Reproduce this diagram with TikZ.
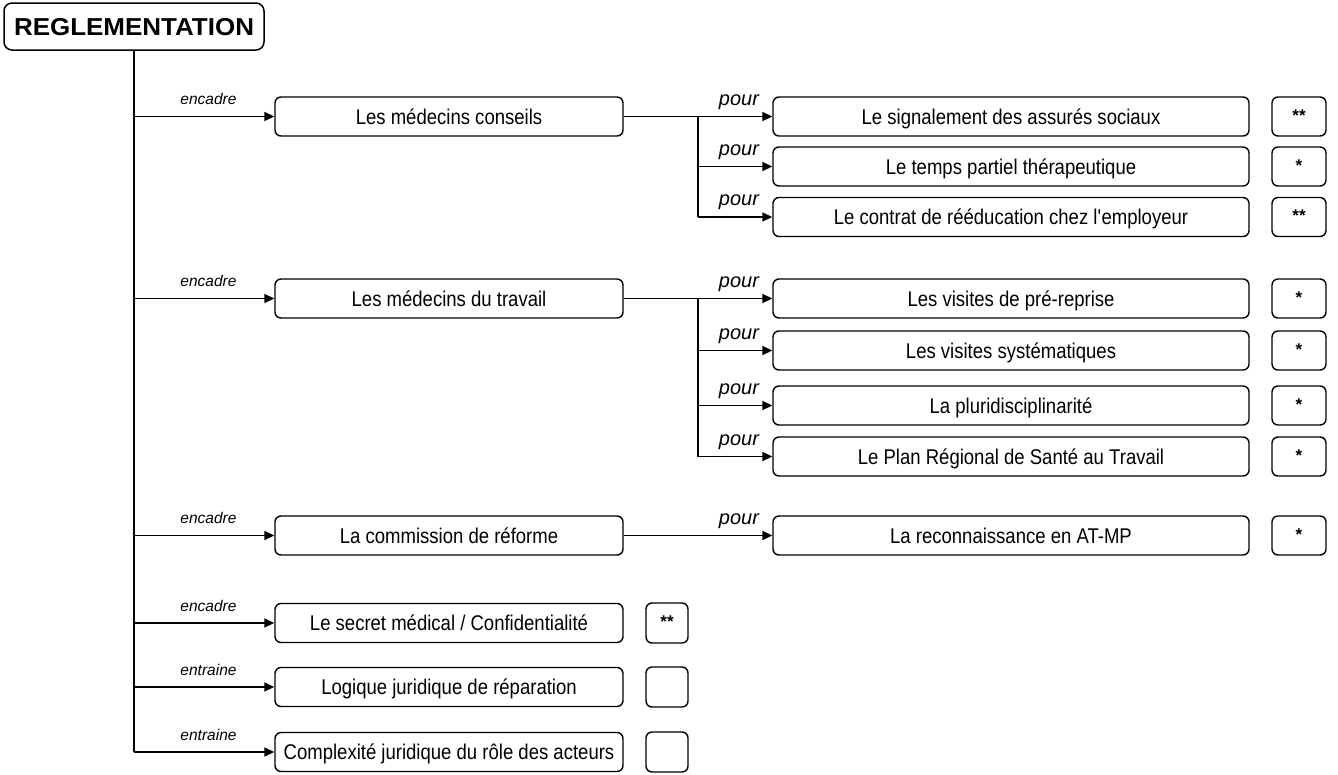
\documentclass[tikz,border=0pt]{standalone}
\usepackage{fontspec}
\setmainfont{Liberation Sans}[FakeStretch=0.87]
\newfontfamily\titlefont{Liberation Sans}[FakeStretch=1.06]
\newfontfamily\lblfont{Liberation Sans}
\usetikzlibrary{arrows.meta}

\tikzset{
  titlebox/.style={draw, rounded corners=8pt, line width=1.5pt, minimum width=260pt,
    minimum height=47pt, inner sep=0pt, text height=17.5pt, text depth=0pt,
    font=\titlefont\bfseries\fontsize{24.5}{28}\selectfont},
  box/.style={draw, rounded corners=6pt, line width=1.4pt, minimum height=39pt,
    inner sep=0pt, text height=15.5pt, text depth=0pt, font=\fontsize{21.3}{24}\selectfont},
  lone/.style={box, minimum width=348pt},
  ltwo/.style={box, minimum width=476pt},
  starbox/.style={box, minimum width=54pt, text height=9pt,
    font=\lblfont\bfseries\fontsize{17}{18}\selectfont},
  smallstar/.style={starbox, minimum width=42pt, minimum height=40pt},
  rel/.style={anchor=base, inner sep=0pt, font=\lblfont\itshape\fontsize{15.5}{18}\selectfont},
  pourlbl/.style={anchor=base, inner sep=0pt, font=\lblfont\itshape\fontsize{20}{22}\selectfont},
  wire/.style={line width=1.6pt},
  link/.style={wire, -{Triangle[length=10pt,width=9pt]}}
}

\begin{document}
\begin{tikzpicture}[x=1pt,y=-1pt]
\useasboundingbox (0,0) rectangle (1338,774);

% root
\node[titlebox] (title) at (134,26.5) {REGLEMENTATION};

% first level
\node[lone] (mc) at (449,116.5) {Les médecins conseils};
\node[lone] (mt) at (449,298.5) {Les médecins du travail};
\node[lone] (cr) at (449,535.5) {La commission de réforme};
\node[lone] (sm) at (449,623)   {Le secret médical / Confidentialité};
\node[lone] (lj) at (449,687)   {Logique juridique de réparation};
\node[lone] (cj) at (449,752)   {Complexité juridique du rôle des acteurs};

% second level
\node[ltwo] (s1) at (1011,116.5) {Le signalement des assurés sociaux};
\node[ltwo] (s2) at (1011,166.5) {Le temps partiel thérapeutique};
\node[ltwo] (s3) at (1011,217)   {Le contrat de rééducation chez l\textquotesingle employeur};
\node[ltwo] (t1) at (1011,298.5) {Les visites de pré-reprise};
\node[ltwo] (t2) at (1011,350.5) {Les visites systématiques};
\node[ltwo] (t3) at (1011,405.5) {La pluridisciplinarité};
\node[ltwo] (t4) at (1011,456.5) {Le Plan Régional de Santé au Travail};
\node[ltwo] (r1) at (1011,535.5) {La reconnaissance en AT-MP};

% rating boxes
\node[starbox] (ks1) at (1299,116.5) {**};
\node[starbox] (ks2) at (1299,166.5) {*};
\node[starbox] (ks3) at (1299,217)   {**};
\node[starbox] (kt1) at (1299,298.5) {*};
\node[starbox] (kt2) at (1299,350.5) {*};
\node[starbox] (kt3) at (1299,405.5) {*};
\node[starbox] (kt4) at (1299,456.5) {*};
\node[starbox] (kr1) at (1299,535.5) {*};
\node[smallstar] (ksm) at (667,623) {**};
\node[smallstar] (klj) at (667,687) {};
\node[smallstar] (kcj) at (667,752) {};

% trunk and first-level links
\draw[wire] (title.south) -- (title.south |- cj.west);
\foreach \n/\t in {mc/encadre, mt/encadre, cr/encadre, sm/encadre, lj/entraine, cj/entraine}{
  \draw[link] (title.south |- \n.west) -- (\n.west);
  \node[rel] (lbl-\n) at ([yshift=12pt] 208.5,0 |- \n.west) {\t};
}

% branches from the doctors' nodes
\coordinate (bmc) at (698,116.5);
\coordinate (bmt) at (698,298.5);
\draw[link] (mc.east) -- (s1.west);
\draw[wire] (bmc) -- (bmc |- s3.west);
\draw[link] (bmc |- s2.west) -- (s2.west);
\draw[link] (bmc |- s3.west) -- (s3.west);

\draw[link] (mt.east) -- (t1.west);
\draw[wire] (bmt) -- (bmt |- t4.west);
\draw[link] (bmt |- t2.west) -- (t2.west);
\draw[link] (bmt |- t3.west) -- (t3.west);
\draw[link] (bmt |- t4.west) -- (t4.west);

\draw[link] (cr.east) -- (r1.west);

% "pour" labels
\foreach \n in {s1,s2,s3,t1,t2,t3,t4,r1}{
  \node[pourlbl] (pl-\n) at ([yshift=11.5pt] 739,0 |- \n.west) {pour};
}
\end{tikzpicture}
\end{document}
